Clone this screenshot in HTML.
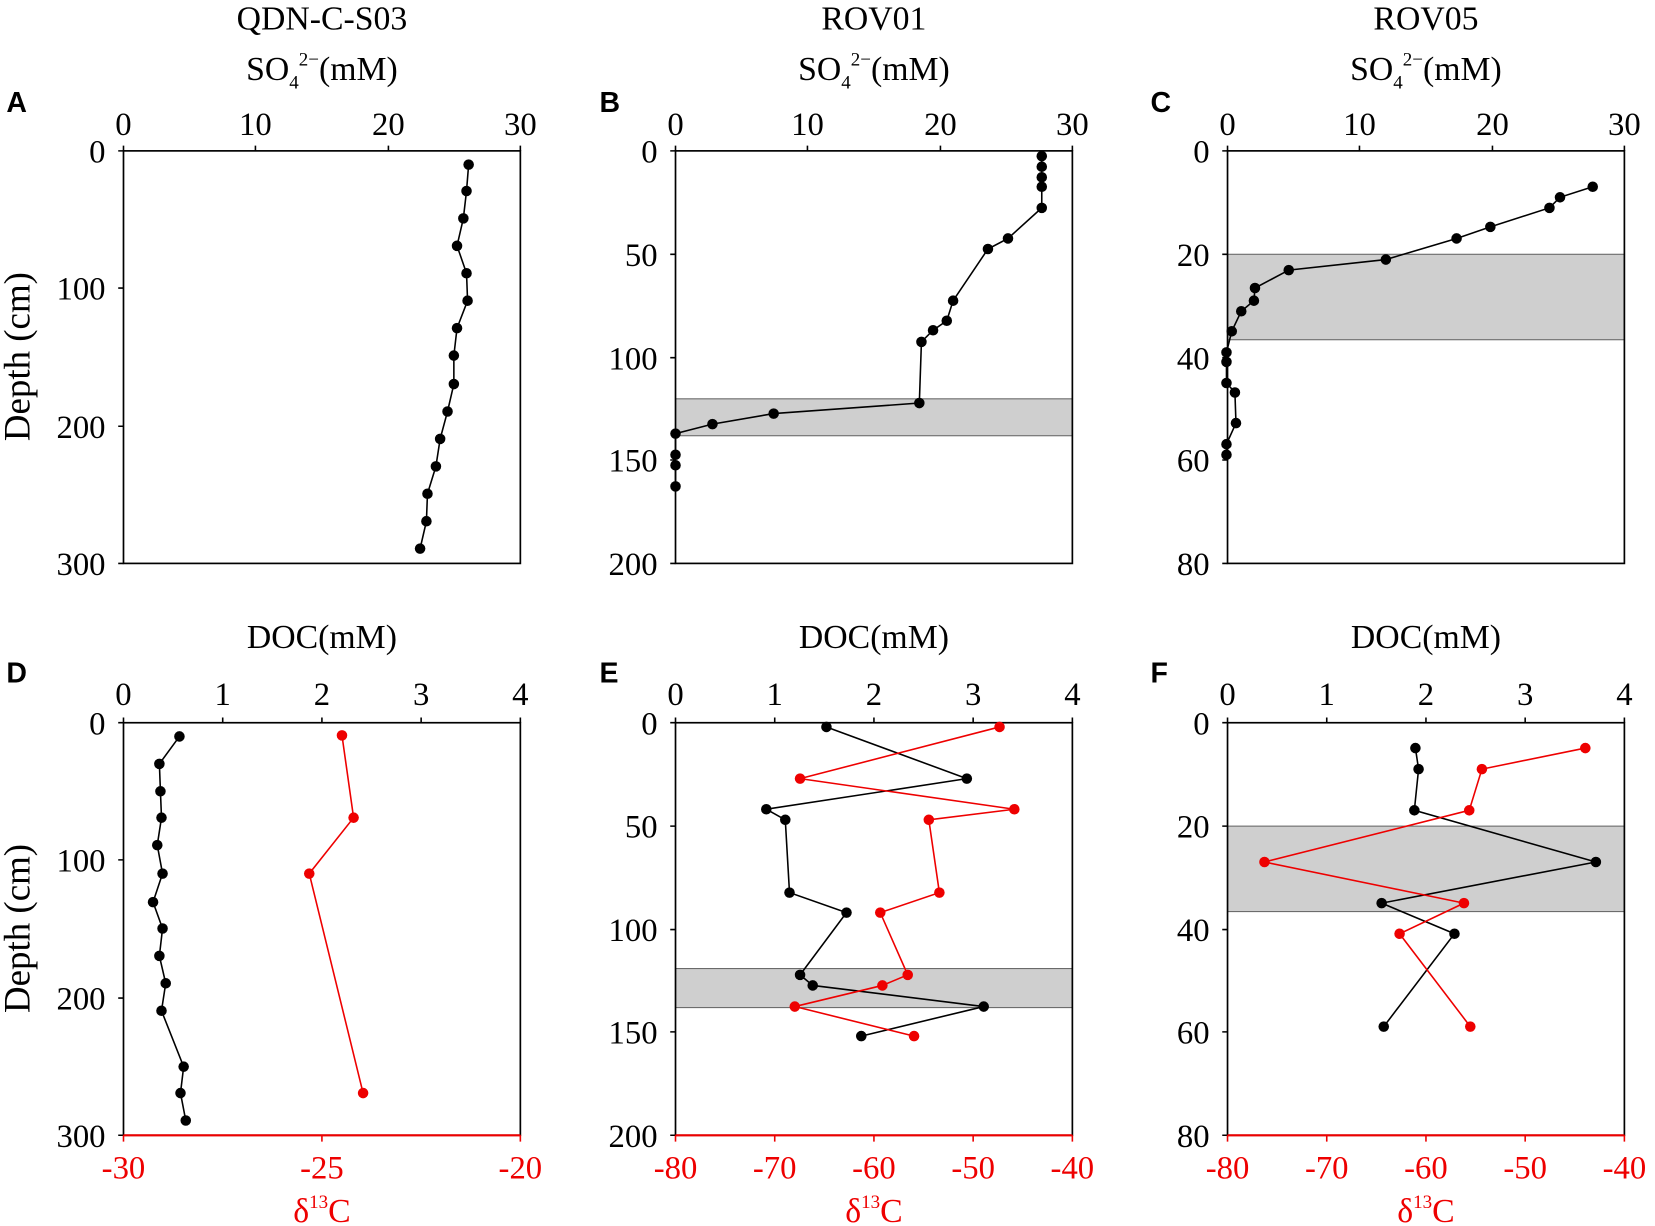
<!DOCTYPE html>
<html><head><meta charset="utf-8"><style>html,body{margin:0;padding:0;background:#fff}svg{display:block}</style></head><body>
<svg width="1655" height="1226" viewBox="0 0 1568 1162" preserveAspectRatio="none" xmlns="http://www.w3.org/2000/svg" font-family="Liberation Serif, serif" font-size="31">
<g text-anchor="middle" fill="#000" font-size="32">
<text x="305" y="28">QDN-C-S03</text><text x="828" y="28">ROV01</text><text x="1351" y="28">ROV05</text>
<text x="305" y="76">SO<tspan font-size="18" dy="8">4</tspan><tspan font-size="18" dy="-22">2−</tspan><tspan dy="14">(mM)</tspan></text>
<text x="828" y="76">SO<tspan font-size="18" dy="8">4</tspan><tspan font-size="18" dy="-22">2−</tspan><tspan dy="14">(mM)</tspan></text>
<text x="1351" y="76">SO<tspan font-size="18" dy="8">4</tspan><tspan font-size="18" dy="-22">2−</tspan><tspan dy="14">(mM)</tspan></text>
<text x="305" y="614">DOC(mM)</text><text x="828" y="614">DOC(mM)</text><text x="1351" y="614">DOC(mM)</text>
</g>
<g font-family="Liberation Sans, sans-serif" font-weight="bold" font-size="27">
<text x="6" y="106">A</text><text x="568" y="106">B</text><text x="1090" y="106">C</text>
<text x="6" y="647">D</text><text x="568" y="647">E</text><text x="1090" y="647">F</text>
</g>
<text transform="translate(28,338) rotate(-90)" text-anchor="middle" font-size="35">Depth (cm)</text>
<text transform="translate(28,880) rotate(-90)" text-anchor="middle" font-size="35">Depth (cm)</text>
<g fill="#cfcfcf" stroke="#666" stroke-width="1">
<rect x="640" y="378" width="376" height="35"/>
<rect x="1163" y="241" width="376" height="81"/>
<rect x="640" y="918" width="376" height="37"/>
<rect x="1163" y="783" width="376" height="81"/>
</g>
<g fill="none" stroke="#000" stroke-width="1.6">
<rect x="117" y="143" width="376" height="391"/><rect x="640" y="143" width="376" height="391"/><rect x="1163" y="143" width="376" height="391"/>
<rect x="117" y="685" width="376" height="391"/><rect x="640" y="685" width="376" height="391"/><rect x="1163" y="685" width="376" height="391"/>
</g>
<g stroke="#e00" stroke-width="2"><line x1="117" y1="1076" x2="493" y2="1076"/><line x1="640" y1="1076" x2="1016" y2="1076"/><line x1="1163" y1="1076" x2="1539" y2="1076"/></g>
<g stroke="#000" stroke-width="1.5">
<path d="M117 143v-5M242 143v-5M368 143v-5M493 143v-5M640 143v-5M765 143v-5M891 143v-5M1016 143v-5M1163 143v-5M1288 143v-5M1414 143v-5M1539 143v-5"/>
<path d="M117 685v-5M211 685v-5M305 685v-5M399 685v-5M493 685v-5M640 685v-5M734 685v-5M828 685v-5M922 685v-5M1016 685v-5M1163 685v-5M1257 685v-5M1351 685v-5M1445 685v-5M1539 685v-5"/>
<path d="M117 143h-5M117 273h-5M117 404h-5M117 534h-5M640 143h-5M640 241h-5M640 339h-5M640 436h-5M640 534h-5M1163 143h-5M1163 241h-5M1163 339h-5M1163 436h-5M1163 534h-5"/>
<path d="M117 685h-5M117 815h-5M117 946h-5M117 1076h-5M640 685h-5M640 783h-5M640 881h-5M640 978h-5M640 1076h-5M1163 685h-5M1163 783h-5M1163 881h-5M1163 978h-5M1163 1076h-5"/>
</g>
<g stroke="#e00" stroke-width="1.5"><path d="M117 1076v6M305 1076v6M493 1076v6M640 1076v6M734 1076v6M828 1076v6M922 1076v6M1016 1076v6M1163 1076v6M1257 1076v6M1351 1076v6M1445 1076v6M1539 1076v6"/></g>
<g text-anchor="middle">
<text x="117" y="128">0</text><text x="242" y="128">10</text><text x="368" y="128">20</text><text x="493" y="128">30</text>
<text x="640" y="128">0</text><text x="765" y="128">10</text><text x="891" y="128">20</text><text x="1016" y="128">30</text>
<text x="1163" y="128">0</text><text x="1288" y="128">10</text><text x="1414" y="128">20</text><text x="1539" y="128">30</text>
<text x="117" y="668">0</text><text x="211" y="668">1</text><text x="305" y="668">2</text><text x="399" y="668">3</text><text x="493" y="668">4</text>
<text x="640" y="668">0</text><text x="734" y="668">1</text><text x="828" y="668">2</text><text x="922" y="668">3</text><text x="1016" y="668">4</text>
<text x="1163" y="668">0</text><text x="1257" y="668">1</text><text x="1351" y="668">2</text><text x="1445" y="668">3</text><text x="1539" y="668">4</text>
</g>
<g text-anchor="middle" fill="#e00">
<text x="117" y="1117">-30</text><text x="305" y="1117">-25</text><text x="493" y="1117">-20</text>
<text x="640" y="1117">-80</text><text x="734" y="1117">-70</text><text x="828" y="1117">-60</text><text x="922" y="1117">-50</text><text x="1016" y="1117">-40</text>
<text x="1163" y="1117">-80</text><text x="1257" y="1117">-70</text><text x="1351" y="1117">-60</text><text x="1445" y="1117">-50</text><text x="1539" y="1117">-40</text>
<text x="305" y="1158" font-size="32">δ<tspan font-size="18" dy="-13">13</tspan><tspan dy="13">C</tspan></text>
<text x="828" y="1158" font-size="32">δ<tspan font-size="18" dy="-13">13</tspan><tspan dy="13">C</tspan></text>
<text x="1351" y="1158" font-size="32">δ<tspan font-size="18" dy="-13">13</tspan><tspan dy="13">C</tspan></text>
</g>
<g text-anchor="end">
<text x="100" y="154">0</text><text x="100" y="284">100</text><text x="100" y="415">200</text><text x="100" y="545">300</text>
<text x="623" y="154">0</text><text x="623" y="252">50</text><text x="623" y="350">100</text><text x="623" y="447">150</text><text x="623" y="545">200</text>
<text x="1146" y="154">0</text><text x="1146" y="252">20</text><text x="1146" y="350">40</text><text x="1146" y="447">60</text><text x="1146" y="545">80</text>
<text x="100" y="696">0</text><text x="100" y="826">100</text><text x="100" y="957">200</text><text x="100" y="1087">300</text>
<text x="623" y="696">0</text><text x="623" y="794">50</text><text x="623" y="892">100</text><text x="623" y="989">150</text><text x="623" y="1087">200</text>
<text x="1146" y="696">0</text><text x="1146" y="794">20</text><text x="1146" y="892">40</text><text x="1146" y="989">60</text><text x="1146" y="1087">80</text>
</g>
<g fill="none" stroke-width="1.5">
<polyline stroke="#000" points="444,156 442,181 439,207 433,233 442,259 443,285 433,311 430,337 430,364 424,390 417,416 413,442 405,468 404,494 398,520"/>
<polyline stroke="#000" points="987,148 987,158 987,168 987,177 987,197 955,226 936,236 903,285 897,304 884,313 873,324 871,382 733,392 675,402 640,411 640,431 640,441 640,461"/>
<polyline stroke="#000" points="1509,177 1478,187 1468,197 1412,215 1380,226 1313,246 1221,256 1189,273 1188,285 1176,295 1167,314 1162,334 1162,343 1162,363 1170,372 1171,401 1162,421 1162,431"/>
<polyline stroke="#000" points="170,698 151,724 152,750 153,775 149,801 154,828 145,855 154,880 151,906 157,932 153,958 174,1011 171,1036 176,1062"/>
<polyline stroke="#e00" points="324,697 335,775 293,828 344,1036"/>
<polyline stroke="#000" points="783,689 916,738 726,767 744,777 748,846 802,865 758,924 770,934 932,954 816,982"/>
<polyline stroke="#e00" points="947,689 758,738 961,767 880,777 890,846 834,865 860,924 836,934 753,954 866,982"/>
<polyline stroke="#000" points="1341,709 1344,729 1340,768 1512,817 1309,856 1378,885 1311,973"/>
<polyline stroke="#e00" points="1502,709 1404,729 1392,768 1198,817 1387,856 1326,885 1393,973"/>
</g>
<g fill="#000">
<circle cx="444" cy="156" r="5"/><circle cx="442" cy="181" r="5"/><circle cx="439" cy="207" r="5"/><circle cx="433" cy="233" r="5"/><circle cx="442" cy="259" r="5"/><circle cx="443" cy="285" r="5"/><circle cx="433" cy="311" r="5"/><circle cx="430" cy="337" r="5"/><circle cx="430" cy="364" r="5"/><circle cx="424" cy="390" r="5"/><circle cx="417" cy="416" r="5"/><circle cx="413" cy="442" r="5"/><circle cx="405" cy="468" r="5"/><circle cx="404" cy="494" r="5"/><circle cx="398" cy="520" r="5"/>
<circle cx="987" cy="148" r="5"/><circle cx="987" cy="158" r="5"/><circle cx="987" cy="168" r="5"/><circle cx="987" cy="177" r="5"/><circle cx="987" cy="197" r="5"/><circle cx="955" cy="226" r="5"/><circle cx="936" cy="236" r="5"/><circle cx="903" cy="285" r="5"/><circle cx="897" cy="304" r="5"/><circle cx="884" cy="313" r="5"/><circle cx="873" cy="324" r="5"/><circle cx="871" cy="382" r="5"/><circle cx="733" cy="392" r="5"/><circle cx="675" cy="402" r="5"/><circle cx="640" cy="411" r="5"/><circle cx="640" cy="431" r="5"/><circle cx="640" cy="441" r="5"/><circle cx="640" cy="461" r="5"/>
<circle cx="1509" cy="177" r="5"/><circle cx="1478" cy="187" r="5"/><circle cx="1468" cy="197" r="5"/><circle cx="1412" cy="215" r="5"/><circle cx="1380" cy="226" r="5"/><circle cx="1313" cy="246" r="5"/><circle cx="1221" cy="256" r="5"/><circle cx="1189" cy="273" r="5"/><circle cx="1188" cy="285" r="5"/><circle cx="1176" cy="295" r="5"/><circle cx="1167" cy="314" r="5"/><circle cx="1162" cy="334" r="5"/><circle cx="1162" cy="343" r="5"/><circle cx="1162" cy="363" r="5"/><circle cx="1170" cy="372" r="5"/><circle cx="1171" cy="401" r="5"/><circle cx="1162" cy="421" r="5"/><circle cx="1162" cy="431" r="5"/>
<circle cx="170" cy="698" r="5"/><circle cx="151" cy="724" r="5"/><circle cx="152" cy="750" r="5"/><circle cx="153" cy="775" r="5"/><circle cx="149" cy="801" r="5"/><circle cx="154" cy="828" r="5"/><circle cx="145" cy="855" r="5"/><circle cx="154" cy="880" r="5"/><circle cx="151" cy="906" r="5"/><circle cx="157" cy="932" r="5"/><circle cx="153" cy="958" r="5"/><circle cx="174" cy="1011" r="5"/><circle cx="171" cy="1036" r="5"/><circle cx="176" cy="1062" r="5"/>
<circle cx="783" cy="689" r="5"/><circle cx="916" cy="738" r="5"/><circle cx="726" cy="767" r="5"/><circle cx="744" cy="777" r="5"/><circle cx="748" cy="846" r="5"/><circle cx="802" cy="865" r="5"/><circle cx="758" cy="924" r="5"/><circle cx="770" cy="934" r="5"/><circle cx="932" cy="954" r="5"/><circle cx="816" cy="982" r="5"/>
<circle cx="1341" cy="709" r="5"/><circle cx="1344" cy="729" r="5"/><circle cx="1340" cy="768" r="5"/><circle cx="1512" cy="817" r="5"/><circle cx="1309" cy="856" r="5"/><circle cx="1378" cy="885" r="5"/><circle cx="1311" cy="973" r="5"/>
</g>
<g fill="#e00">
<circle cx="324" cy="697" r="5"/><circle cx="335" cy="775" r="5"/><circle cx="293" cy="828" r="5"/><circle cx="344" cy="1036" r="5"/>
<circle cx="947" cy="689" r="5"/><circle cx="758" cy="738" r="5"/><circle cx="961" cy="767" r="5"/><circle cx="880" cy="777" r="5"/><circle cx="890" cy="846" r="5"/><circle cx="834" cy="865" r="5"/><circle cx="860" cy="924" r="5"/><circle cx="836" cy="934" r="5"/><circle cx="753" cy="954" r="5"/><circle cx="866" cy="982" r="5"/>
<circle cx="1502" cy="709" r="5"/><circle cx="1404" cy="729" r="5"/><circle cx="1392" cy="768" r="5"/><circle cx="1198" cy="817" r="5"/><circle cx="1387" cy="856" r="5"/><circle cx="1326" cy="885" r="5"/><circle cx="1393" cy="973" r="5"/>
</g>
</svg>
</body></html>
